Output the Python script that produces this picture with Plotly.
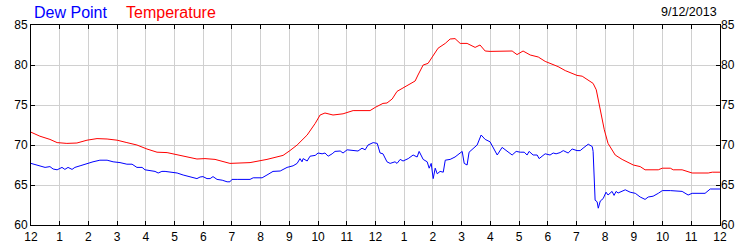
import plotly.graph_objects as go

# ---- data ----
hour_labels = ["12", "1", "2", "3", "4", "5", "6", "7", "8", "9", "10", "11",
               "12", "1", "2", "3", "4", "5", "6", "7", "8", "9", "10", "11", "12"]

temp_hours = [0.00, 0.31, 0.66, 0.91, 1.25, 1.60, 1.95, 2.30, 2.65, 3.00, 3.34, 3.69,
              4.04, 4.39, 4.74, 5.09, 5.44, 5.78, 6.06, 6.41, 6.93, 7.63, 8.22, 8.78,
              9.02, 9.27, 9.62, 9.90, 10.07, 10.24, 10.52, 10.87, 11.22, 11.57, 11.81,
              11.99, 12.26, 12.40, 12.58, 12.75, 13.03, 13.21, 13.38, 13.48, 13.66, 13.83,
              14.01, 14.18, 14.43, 14.60, 14.77, 14.95, 15.19, 15.37, 15.47, 15.64, 15.82,
              15.99, 16.27, 16.45, 16.76, 16.93, 17.14, 17.39, 17.67, 17.91, 18.15, 18.36,
              18.61, 18.85, 19.02, 19.20, 19.41, 19.58, 19.69, 19.76, 19.86, 19.97, 20.10,
              20.35, 20.59, 20.77, 20.98, 21.22, 21.39, 21.85, 21.99, 22.27, 22.37, 22.68,
              23.03, 23.59, 23.73, 24.00]
temp_values = [71.6, 71.1, 70.7, 70.3, 70.2, 70.25, 70.6, 70.8, 70.75, 70.6, 70.3, 70.0,
               69.5, 69.1, 69.05, 68.8, 68.5, 68.25, 68.3, 68.2, 67.7, 67.8, 68.2, 68.7,
               69.3, 70.0, 71.25, 72.7, 73.75, 74.0, 73.75, 73.9, 74.3, 74.3, 74.3,
               74.7, 75.2, 75.25, 75.75, 76.7, 77.25, 77.6, 78.0, 78.75, 80.0, 80.2,
               81.25, 82.1, 82.7, 83.25, 83.3, 82.7, 82.7, 82.4, 82.2, 82.5, 81.75,
               81.7, 81.7, 81.75, 81.75, 81.3, 81.75, 81.25, 81.0, 80.45, 80.1, 79.8,
               79.3, 78.95, 78.7, 78.6, 78.1, 77.7, 76.9, 75.6, 73.5, 71.9, 70.2,
               68.75, 68.2, 67.9, 67.5, 67.3, 66.9, 66.9, 67.1, 67.1, 66.9, 66.9,
               66.5, 66.5, 66.6, 66.6]

dew_hours = [0.00, 0.21, 0.49, 0.66, 0.77, 0.91, 1.08, 1.18, 1.29, 1.43, 1.53, 1.71,
             1.95, 2.16, 2.40, 2.65, 2.86, 3.10, 3.34, 3.52, 3.69, 3.87, 3.97, 4.15,
             4.32, 4.43, 4.56, 4.67, 4.84, 5.09, 5.30, 5.54, 5.78, 5.89, 5.99, 6.13,
             6.24, 6.34, 6.48, 6.66, 6.83, 6.93, 7.00, 7.18, 7.63, 7.74, 8.05, 8.22,
             8.43, 8.68, 8.92, 9.13, 9.27, 9.37, 9.44, 9.48, 9.62, 9.72, 9.90, 10.00,
             10.14, 10.24, 10.35, 10.49, 10.59, 10.77, 10.87, 11.01, 11.22, 11.39, 11.53,
             11.64, 11.74, 11.92, 12.06, 12.16, 12.26, 12.40, 12.51, 12.68, 12.75, 12.86,
             12.96, 13.14, 13.31, 13.45, 13.52, 13.66, 13.80, 13.87, 13.94, 14.01, 14.08,
             14.15, 14.25, 14.36, 14.43, 14.60, 14.77, 14.95, 15.02, 15.09, 15.19, 15.26,
             15.40, 15.54, 15.68, 15.82, 15.99, 16.10, 16.24, 16.41, 16.59, 16.76, 16.90,
             17.04, 17.18, 17.28, 17.35, 17.49, 17.63, 17.70, 17.91, 18.08, 18.19, 18.29,
             18.43, 18.54, 18.71, 18.85, 19.02, 19.13, 19.23, 19.41, 19.55, 19.58, 19.65,
             19.72, 19.76, 19.83, 19.93, 20.03, 20.10, 20.24, 20.31, 20.38, 20.45, 20.56,
             20.70, 20.87, 21.05, 21.22, 21.39, 21.50, 21.67, 21.85, 21.99, 22.27, 22.68,
             22.89, 23.03, 23.48, 23.66, 24.00]
dew_values = [67.7, 67.5, 67.2, 67.3, 67.0, 66.9, 67.2, 66.95, 67.2, 66.95, 67.2, 67.4,
              67.7, 67.9, 68.1, 68.1, 67.9, 67.8, 67.6, 67.6, 67.2, 67.2, 66.9, 66.75,
              66.7, 66.5, 66.7, 66.7, 66.6, 66.5, 66.25, 66.0, 65.8, 66.0, 66.05, 65.8,
              65.8, 66.05, 65.7, 65.6, 65.4, 65.4, 65.7, 65.7, 65.7, 65.9, 65.9, 66.25,
              66.7, 66.75, 67.2, 67.4, 67.7, 68.3, 67.9, 68.3, 68.0, 68.6, 68.7, 69.0,
              68.9, 69.0, 68.6, 68.9, 69.2, 69.25, 69.0, 69.4, 69.3, 69.25, 69.6,
              69.4, 70.0, 70.3, 70.2, 69.0, 68.9, 67.9, 67.7, 67.9, 67.7, 68.2,
              68.0, 68.3, 68.75, 68.5, 69.2, 68.2, 67.9, 67.1, 67.7, 65.8, 67.1,
              66.4, 66.7, 66.6, 68.1, 68.2, 68.5, 69.0, 69.2, 67.7, 67.5, 69.1,
              69.5, 70.0, 71.25, 70.7, 70.4, 69.7, 68.75, 69.7, 69.2, 68.75, 69.2,
              69.1, 69.1, 68.75, 69.2, 68.75, 68.75, 68.3, 68.9, 68.75, 69.0, 68.9,
              69.05, 69.3, 69.0, 69.5, 69.3, 69.3, 69.6, 70.1, 69.8, 69.2, 63.1,
              62.9, 62.1, 63.0, 63.3, 64.1, 63.75, 64.2, 63.7, 64.2, 64.0, 64.2,
              64.4, 64.1, 63.96, 63.5, 63.2, 63.5, 63.6, 63.96, 64.3, 64.3, 64.2,
              63.75, 63.96, 63.96, 64.5, 64.5]

y_ticks = [60, 65, 70, 75, 80, 85]
date_text = "9/12/2013"

FONT = "Liberation Sans, Arial, sans-serif"

fig = go.Figure()
fig.add_trace(go.Scatter(x=dew_hours, y=dew_values, mode="lines",
                         line=dict(color="#0000ff", width=1), name="Dew Point",
                         hoverinfo="skip"))
fig.add_trace(go.Scatter(x=temp_hours, y=temp_values, mode="lines",
                         line=dict(color="#ff0000", width=1), name="Temperature",
                         yaxis="y2", hoverinfo="skip"))

axis_common = dict(showline=True, linecolor="black", linewidth=1,
                   ticks="inside", ticklen=4, tickcolor="black", tickwidth=1,
                   zeroline=False, automargin=False,
                   tickfont=dict(family=FONT, size=12, color="#000000"))

fig.update_layout(
    width=750, height=250,
    margin=dict(l=31, r=30, t=25, b=25),
    paper_bgcolor="white", plot_bgcolor="white",
    showlegend=False,
    font=dict(family=FONT, size=12, color="#000000"),
    xaxis=dict(range=[0, 24], tickmode="array", tickvals=list(range(25)),
               ticktext=hour_labels, showgrid=True, gridcolor="#d0d0d0",
               gridwidth=1, mirror="ticks", ticklabelstandoff=1, **axis_common),
    yaxis=dict(range=[60, 85], tickmode="array", tickvals=y_ticks,
               showgrid=True, gridcolor="#d0d0d0", gridwidth=1,
               mirror="ticks", side="left", **axis_common),
    yaxis2=dict(range=[60, 85], tickmode="array", tickvals=y_ticks,
                overlaying="y", side="right", showgrid=False,
                showline=False, ticks="", zeroline=False, automargin=False,
                tickfont=dict(family=FONT, size=12, color="#000000")),
    annotations=[
        dict(text="Dew Point", xref="paper", yref="paper", x=0.002, y=1.065,
             xanchor="left", yanchor="middle", showarrow=False,
             font=dict(family=FONT, size=16, color="#0000ff")),
        dict(text="Temperature", xref="paper", yref="paper", x=0.135, y=1.065,
             xanchor="left", yanchor="middle", showarrow=False,
             font=dict(family=FONT, size=16, color="#ff0000")),
        dict(text=date_text, xref="paper", yref="paper", x=0.998, y=1.065,
             xanchor="right", yanchor="middle", showarrow=False,
             font=dict(family=FONT, size=12.5, color="#000000")),
    ],
)

fig.write_html("out.html")
